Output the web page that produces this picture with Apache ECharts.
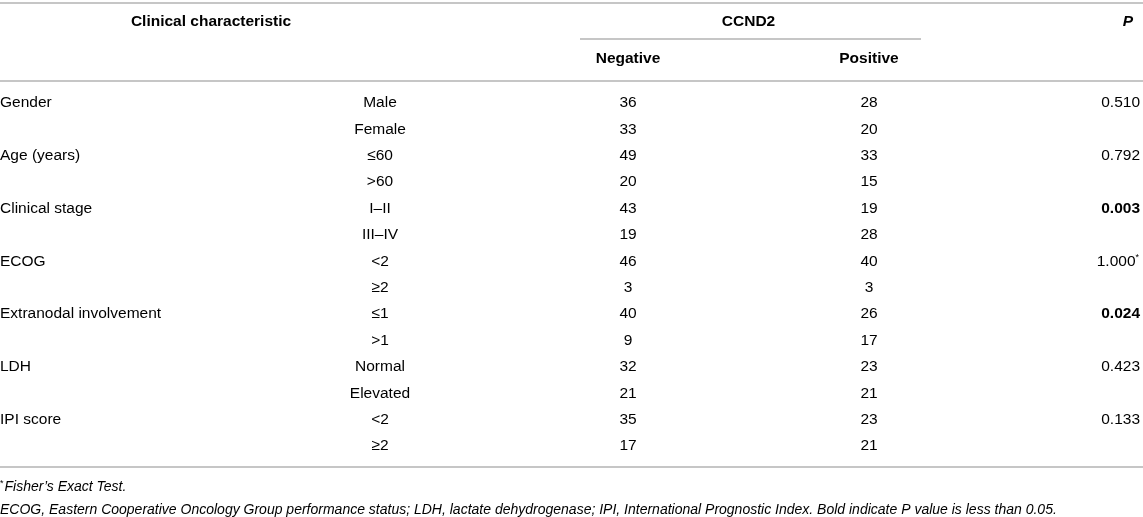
<!DOCTYPE html>
<html>
<head>
<meta charset="utf-8">
<script src="https://cdn.jsdelivr.net/npm/echarts@6/dist/echarts.min.js"></script>
<style>
  html, body { margin: 0; padding: 0; background: #fff; }
  #main { width: 1143px; height: 517px; }
</style>
</head>
<body>
<div id="main"></div>
<script>
// table content
var groups = ['Gender', 'Age (years)', 'Clinical stage', 'ECOG', 'Extranodal involvement', 'LDH', 'IPI score'];
var levels = [['Male', 'Female'], ['≤60', '>60'], ['I–II', 'III–IV'], ['<2', '≥2'], ['≤1', '>1'], ['Normal', 'Elevated'], ['<2', '≥2']];
var negative = [36, 33, 49, 20, 43, 19, 46, 3, 40, 9, 32, 21, 35, 17];
var positive = [28, 20, 33, 15, 19, 28, 40, 3, 26, 17, 23, 21, 23, 21];
var pValues = ['0.510', '0.792', '0.003', '1.000*', '0.024', '0.423', '0.133'];
var headers = ['Clinical characteristic', 'CCND2', 'P', 'Negative', 'Positive'];
var notes = ['Fisher\u2019s Exact Test.',
  'ECOG, Eastern Cooperative Oncology Group performance status; LDH, lactate dehydrogenase; IPI, International Prognostic Index. Bold indicate P value is less than 0.05.'];

// layout (pixel units on the hidden value axes)
var colX = [0, 380, 628, 869, 1140];
var colAlign = ['left', 'center', 'center', 'center', 'right'];
var rowTop = 103, rowStep = 26.4;
var FONT = '"Liberation Sans", Arial, Helvetica, sans-serif';

var cells = [];
function cell(x, y, text, align, kind) { cells.push([x, y, text, align, kind]); }

cell(211, 22, headers[0], 'center', 'bold');
cell((colX[2] + colX[3]) / 2, 22, headers[1], 'center', 'bold');
cell(1128, 22, headers[2], 'center', 'boldit');
cell(colX[2], 59, headers[3], 'center', 'bold');
cell(colX[3], 59, headers[4], 'center', 'bold');

var r = 0;
groups.forEach(function (g, gi) {
  levels[gi].forEach(function (lv, li) {
    var y = rowTop + r * rowStep;
    if (li === 0) {
      cell(colX[0], y, g, colAlign[0], 'plain');
      var p = pValues[gi];
      cell(colX[4], y, p, colAlign[4], parseFloat(p) < 0.05 ? 'bold' : 'plain');
    }
    cell(colX[1], y, lv, colAlign[1], 'plain');
    cell(colX[2], y, String(negative[r]), colAlign[2], 'plain');
    cell(colX[3], y, String(positive[r]), colAlign[3], 'plain');
    r++;
  });
});
var lastRow = rowTop + (r - 1) * rowStep;
cell(0, 487, notes[0], 'left', 'note1');
cell(0, 510, notes[1], 'left', 'italic');

function richText(text, kind) {
  if (kind === 'note1') return '{sup|*}{it|' + text + '}';
  if (text.slice(-1) === '*') return '{' + (kind === 'bold' ? 'b' : 'n') + '|' + text.slice(0, -1) + '}{sup|*}';
  var k = { plain: 'n', bold: 'b', boldit: 'bi', italic: 'it' }[kind];
  return '{' + k + '|' + text + '}';
}

var rich = {
  n: { fontFamily: FONT, fontSize: 15.5, color: '#222' },
  b: { fontFamily: FONT, fontSize: 15.5, fontWeight: 'bold', color: '#111' },
  bi: { fontFamily: FONT, fontSize: 15.5, fontWeight: 'bold', fontStyle: 'italic', color: '#111' },
  it: { fontFamily: FONT, fontSize: 14, fontStyle: 'italic', color: '#222' },
  sup: { fontFamily: FONT, fontSize: 9, color: '#222', verticalAlign: 'top', padding: [0, 1, 7, 0] }
};

var ruleStyle = { color: '#b3b3b3', width: 1.5, type: 'solid' };

var chart = echarts.init(document.getElementById('main'));
chart.setOption({
  animation: false,
  grid: { left: 0, right: 0, top: 0, bottom: 0 },
  xAxis: { type: 'value', min: 0, max: 1143, show: false },
  yAxis: { type: 'value', min: 0, max: 517, inverse: true, show: false },
  series: [{
    type: 'custom',
    data: cells,
    renderItem: function (params, api) {
      var d = cells[params.dataIndex];
      var pt = api.coord([d[0], d[1]]);
      return {
        type: 'text',
        x: pt[0],
        y: pt[1],
        style: {
          text: richText(d[2], d[4]),
          rich: rich,
          align: d[3],
          verticalAlign: 'middle'
        }
      };
    },
    markLine: {
      silent: true,
      symbol: 'none',
      label: { show: false },
      lineStyle: ruleStyle,
      data: [
        [{ coord: [0, 3] }, { coord: [1143, 3] }],
        [{ coord: [580, 39] }, { coord: [921, 39] }],
        [{ coord: [0, 80.5] }, { coord: [1143, 80.5] }],
        [{ coord: [0, lastRow + 21] }, { coord: [1143, lastRow + 21] }]
      ]
    }
  }]
});
</script>
</body>
</html>
